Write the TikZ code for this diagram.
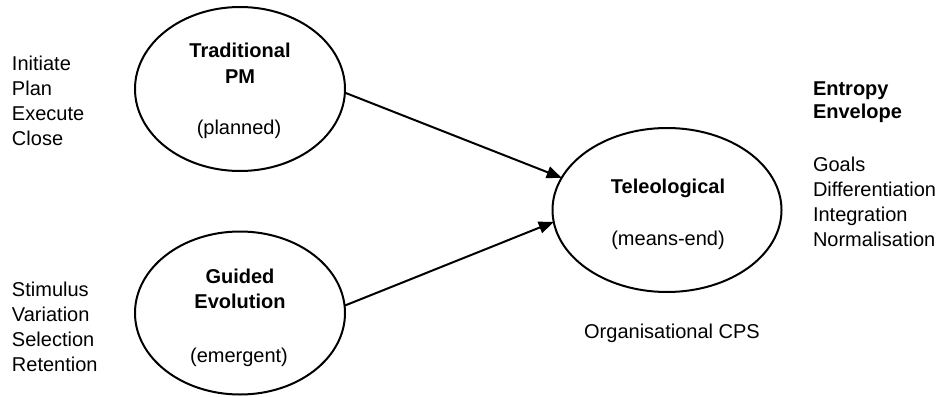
\documentclass[tikz,border=0pt]{standalone}
\usepackage{fontspec}
\setmainfont{Liberation Sans}
\usetikzlibrary{shapes.geometric,arrows.meta}
\begin{document}
\begin{tikzpicture}[x=1pt,y=-1pt,
  every node/.style={inner sep=0pt,outer sep=0pt,
    font=\fontsize{20}{25}\selectfont},
  phase/.style={draw,ellipse,line width=2pt,minimum width=#1},
  listtext/.style={align=left,anchor=base west},
  title/.style={anchor=base,font=\fontsize{20}{25}\selectfont\bfseries},
  sub/.style={anchor=base},
  link/.style={line width=2pt,-{Triangle[length=15pt,width=12pt]}}]
\useasboundingbox (0,0) rectangle (941,396);

% the three process ellipses
\node[phase=210pt,minimum height=164pt] (trad) at (240,89) {};
\node[phase=210pt,minimum height=163pt] (guided) at (240,313) {};
\node[phase=229pt,minimum height=164pt] (tele) at (667,210) {};

% labels inside the ellipses (base = last line)
\node[title,align=center] (tradT) at (240,83) {Traditional\\PM};
\node[sub] (tradS) at (239,134) {(planned)};
\node[title,align=center] (guidT) at (240,308) {Guided\\Evolution};
\node[sub] (guidS) at (239,362) {(emergent)};
\node[title] (teleT) at (668,193) {Teleological};
\node[sub] (teleS) at (668,245) {(means-end)};

% side lists (base = last line)
\node[listtext] (pmSteps) at (12,145) {Initiate\\Plan\\Execute\\Close};
\node[listtext] (evoSteps) at (12,371) {Stimulus\\Variation\\Selection\\Retention};
\node[listtext,font=\fontsize{20}{23}\selectfont\bfseries] (entropy) at (813,118) {Entropy\\Envelope};
\node[listtext] (envSteps) at (813,246) {Goals\\Differentiation\\Integration\\Normalisation};
\node[sub] (cps) at (672,338) {Organisational CPS};

% connectors into the teleological ellipse
\draw[link] (trad.-2) -- (tele.163);
\draw[link] (guided.4) -- (tele.186);
\end{tikzpicture}
\end{document}
